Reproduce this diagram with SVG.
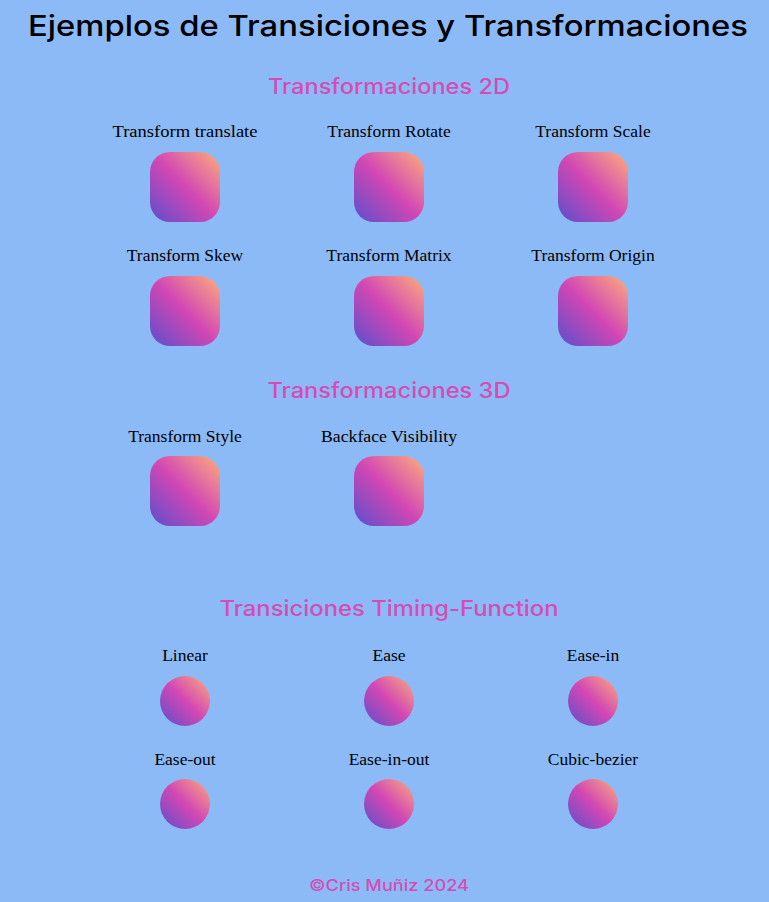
<svg xmlns="http://www.w3.org/2000/svg" width="769" height="902" viewBox="0 0 769 902">
<defs>
<linearGradient id="g" x1="0" y1="1" x2="1" y2="0">
<stop offset="0" stop-color="#5a4fcc"/>
<stop offset="0.5" stop-color="#d247b4"/>
<stop offset="1" stop-color="#fdae7b"/>
</linearGradient>
</defs>
<style>
.title{font-family:"Inter","DejaVu Sans",sans-serif;font-size:29px;font-weight:500;fill:#000;text-anchor:middle}
.sec{font-family:"Inter","DejaVu Sans",sans-serif;font-size:21px;font-weight:500;fill:#d44db5;text-anchor:middle}
.lbl{font-family:"Liberation Serif","DejaVu Serif",serif;font-size:17.5px;fill:#000;text-anchor:middle}
.box{fill:url(#g)}
.foot{font-family:"Inter","DejaVu Sans",sans-serif;font-size:16px;font-weight:500;fill:#d44db5;text-anchor:middle}
</style>
<rect width="769" height="902" fill="#8cbaf6"/>
<text class="title" x="388" y="36" textLength="720" lengthAdjust="spacingAndGlyphs">Ejemplos de Transiciones y Transformaciones</text>
<text class="sec" x="389" y="94" textLength="242" lengthAdjust="spacingAndGlyphs">Transformaciones 2D</text>

<g id="translate"><text class="lbl" x="185" y="137" textLength="145" lengthAdjust="spacingAndGlyphs">Transform translate</text><rect class="box" x="150" y="152" width="70" height="70" rx="20"/></g>
<g id="rotate"><text class="lbl" x="389" y="137">Transform Rotate</text><rect class="box" x="354" y="152" width="70" height="70" rx="20"/></g>
<g id="scale"><text class="lbl" x="593" y="137">Transform Scale</text><rect class="box" x="558" y="152" width="70" height="70" rx="20"/></g>
<g id="skew"><text class="lbl" x="185" y="261">Transform Skew</text><rect class="box" x="150" y="276" width="70" height="70" rx="20"/></g>
<g id="matrix"><text class="lbl" x="389" y="261">Transform Matrix</text><rect class="box" x="354" y="276" width="70" height="70" rx="20"/></g>
<g id="origin"><text class="lbl" x="593" y="261">Transform Origin</text><rect class="box" x="558" y="276" width="70" height="70" rx="20"/></g>

<text class="sec" x="389" y="398" textLength="243" lengthAdjust="spacingAndGlyphs">Transformaciones 3D</text>
<g id="style3d"><text class="lbl" x="185" y="442">Transform Style</text><rect class="box" x="150" y="456" width="70" height="70" rx="20"/></g>
<g id="backface"><text class="lbl" x="389" y="442" textLength="136" lengthAdjust="spacingAndGlyphs">Backface Visibility</text><rect class="box" x="354" y="456" width="70" height="70" rx="20"/></g>

<text class="sec" x="389" y="616" textLength="339" lengthAdjust="spacingAndGlyphs">Transiciones Timing-Function</text>
<g id="linear"><text class="lbl" x="185" y="661">Linear</text><circle class="box" cx="185" cy="701" r="25"/></g>
<g id="ease"><text class="lbl" x="389" y="661">Ease</text><circle class="box" cx="389" cy="701" r="25"/></g>
<g id="easein"><text class="lbl" x="593" y="661">Ease-in</text><circle class="box" cx="593" cy="701" r="25"/></g>
<g id="easeout"><text class="lbl" x="185" y="765">Ease-out</text><circle class="box" cx="185" cy="804" r="25"/></g>
<g id="easeinout"><text class="lbl" x="389" y="765">Ease-in-out</text><circle class="box" cx="389" cy="804" r="25"/></g>
<g id="cubic"><text class="lbl" x="593" y="765">Cubic-bezier</text><circle class="box" cx="593" cy="804" r="25"/></g>

<text class="foot" x="389" y="891" textLength="160" lengthAdjust="spacingAndGlyphs">©Cris Muñiz 2024</text>
<g id="connectors"/>
</svg>
